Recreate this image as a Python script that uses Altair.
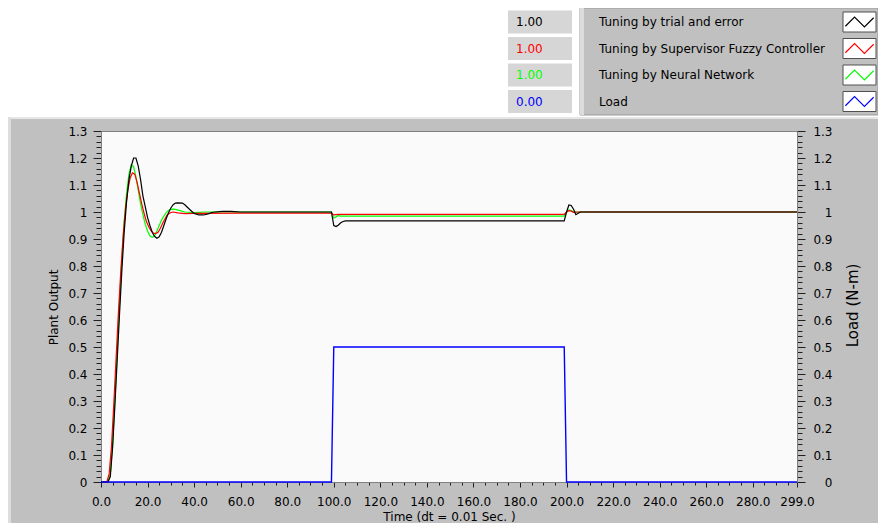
import altair as alt
import pandas as pd

# ---------------- data ----------------
series_names = ["Tuning by trial and error",
                "Tuning by Supervisor Fuzzy Controller",
                "Tuning by Neural Network",
                "Load"]
series_colors = ["#000000", "#ff0000", "#00ff00", "#0000ff"]
current_values = [1.00, 1.00, 1.00, 0.00]

trial_t = [0, 3, 4, 5, 6, 7, 8, 9, 10, 11, 12, 13, 14, 15, 16, 17, 18, 19, 20,
           21, 22, 23, 24, 25, 26, 27, 28, 29, 30, 31, 32, 33, 35, 36, 38, 40,
           42, 44, 46, 48, 52, 56, 60, 99, 100, 101, 102, 103, 104, 105, 199,
           200, 201, 202, 203, 204, 205, 206, 299]
trial_y = [0, 0, 0.02, 0.13, 0.29, 0.46, 0.63, 0.79, 0.93, 1.04, 1.12, 1.17,
           1.2, 1.2, 1.17, 1.12, 1.06, 1.02, 0.98, 0.95, 0.925, 0.91, 0.903,
           0.908, 0.925, 0.95, 0.975, 0.997, 1.015, 1.027, 1.033, 1.034, 1.033,
           1.027, 1.01, 0.995, 0.989, 0.989, 0.993, 0.999, 1.002, 1.002, 1.0,
           1.0, 0.95, 0.946, 0.952, 0.96, 0.965, 0.967, 0.967, 1.0, 1.026,
           1.024, 1.01, 0.99, 0.995, 1.0, 1.0]

fuzzy_t = [0, 2.5, 3.5, 4.5, 5.5, 6.5, 7.5, 8.5, 9.5, 10.5, 11.5, 12.5, 13.5,
           14.5, 15.5, 16.5, 17.5, 18.5, 19.5, 20.5, 21.5, 22.5, 23.5, 24.5,
           25.5, 26.5, 27.5, 28.5, 30, 31, 33, 36, 40, 60, 99, 100, 102, 199,
           200, 201, 202, 203, 205, 299]
fuzzy_y = [0, 0, 0.03, 0.13, 0.29, 0.46, 0.63, 0.78, 0.91, 1.01, 1.08, 1.125,
           1.145, 1.14, 1.11, 1.07, 1.03, 0.995, 0.965, 0.945, 0.93, 0.922,
           0.92, 0.925, 0.94, 0.958, 0.975, 0.99, 0.998, 1.0, 0.997, 0.994,
           0.995, 0.996, 0.996, 0.989, 0.991, 0.991, 1.0, 1.005, 1.003, 0.999,
           1.0, 1.0]

nn_t = [0, 3, 4, 5, 6, 7, 8, 9, 10, 11, 12, 13, 14, 15, 16, 17, 18, 19, 20,
        21, 22, 23, 24, 25, 26, 27, 28, 29, 30, 31, 32, 34, 36, 40, 45, 99,
        100, 101, 102, 103, 105, 199, 200, 201, 202, 203, 204, 299]
nn_y = [0, 0, 0.03, 0.14, 0.31, 0.49, 0.67, 0.83, 0.97, 1.07, 1.14, 1.175,
        1.168, 1.13, 1.08, 1.03, 0.99, 0.955, 0.93, 0.912, 0.906, 0.912, 0.93,
        0.95, 0.97, 0.985, 0.998, 1.006, 1.01, 1.011, 1.01, 1.005, 1.0, 0.998,
        1.0, 1.0, 0.978, 0.982, 0.987, 0.985, 0.985, 0.985, 1.0, 1.008, 1.005,
        1.0, 1.0, 1.0]

load_t = [0, 99, 100, 199, 200, 299]
load_y = [0, 0, 0.5, 0.5, 0, 0]

x_tick_values = list(range(0, 300, 5)) + [299]
y_tick_values = [round(i * 0.02, 2) for i in range(66)]

# ---------------- tables (drawn green, red, then black on top) ----------------
plant_df = pd.concat([
    pd.DataFrame({"series": series_names[2], "t": nn_t, "v": nn_y}),
    pd.DataFrame({"series": series_names[1], "t": fuzzy_t, "v": fuzzy_y}),
    pd.DataFrame({"series": series_names[0], "t": trial_t, "v": trial_y}),
], ignore_index=True)
load_df = pd.DataFrame({"series": series_names[3], "t": load_t, "v": load_y})
legend_df = pd.DataFrame({"series": series_names,
                          "idx": list(range(len(series_names))),
                          "val": current_values})
one = pd.DataFrame({"a": [0]})

FONT = "DejaVu Sans"
color = alt.Color("series:N",
                  scale=alt.Scale(domain=series_names, range=series_colors),
                  legend=None)

x_major = "datum.value % 20 === 0 || datum.value === 299"
y_major = "abs(datum.value * 10 - round(datum.value * 10)) < 0.001"

x_axis = alt.Axis(values=x_tick_values,
                  labelExpr=f"({x_major}) ? format(datum.value, '.1f') : ''",
                  tickSize={"condition": {"test": x_major, "value": 5}, "value": 3},
                  labelPadding=9, labelFlush=False, labelOverlap=False,
                  labelBaseline="top",
                  title="Time (dt = 0.01 Sec. )",
                  titleX=348, titleY=34, titleAlign="center",
                  titleBaseline="middle", titleAnchor="middle")

left_axis = alt.Axis(orient="left", values=y_tick_values,
                     labelExpr=f"({y_major}) ? format(datum.value, '~g') : ''",
                     tickSize={"condition": {"test": y_major, "value": 8}, "value": 5},
                     labelPadding=6, labelOverlap=False,
                     title="Plant Output", titleAngle=270,
                     titleX=-48, titleY=176, titleAlign="center",
                     titleBaseline="middle")

right_axis = alt.Axis(orient="right", values=y_tick_values,
                      labelExpr=f"({y_major}) ? format(datum.value, '~g') : ''",
                      tickSize={"condition": {"test": y_major, "value": 8}, "value": 5},
                      labelAlign="right", labelPadding=27, labelOverlap=False,
                      title="Load (N-m)", titleAngle=270, titleFontSize=15,
                      titleX=55, titleY=174, titleAlign="center",
                      titleBaseline="middle")

x_enc = alt.X("t:Q", scale=alt.Scale(domain=[0, 299], nice=False, zero=False),
              axis=x_axis)

# ---------------- decoration: white header strip and panel edges ----------------
header = alt.Chart(one).mark_rect(fill="#ffffff").encode(
    x=alt.value(-93), x2=alt.value(777), y=alt.value(-123), y2=alt.value(-14))
top_edge = alt.Chart(one).mark_rect(fill="#e6e6e6").encode(
    x=alt.value(-93), x2=alt.value(777), y=alt.value(-14), y2=alt.value(-12))
left_edge = alt.Chart(one).mark_rect(fill="#dedede").encode(
    x=alt.value(-93), x2=alt.value(-90), y=alt.value(-14), y2=alt.value(392))

# ---------------- plots ----------------
plant = alt.Chart(plant_df).mark_line(strokeWidth=1.2).encode(
    x=x_enc,
    y=alt.Y("v:Q", scale=alt.Scale(domain=[0, 1.3], nice=False), axis=left_axis),
    color=color)

load = alt.Chart(load_df).mark_line(strokeWidth=1.4).encode(
    x=x_enc,
    y=alt.Y("v:Q", scale=alt.Scale(domain=[0, 1.3], nice=False), axis=right_axis),
    color=color)

# ---------------- legend block (LabVIEW style) ----------------
leg = alt.Chart(legend_df).transform_calculate(
    yc="-109 + datum.idx * 26.5",
    y0="datum.yc - 11.5",
    y1="datum.yc + 11.5",
    s0="datum.yc - 10",
    s1="datum.yc + 10")

value_boxes = leg.mark_rect(fill="#d6d6d6").encode(
    x=alt.value(407), x2=alt.value(471),
    y=alt.Y("y0:Q", scale=None, axis=None), y2="y1:Q")
value_text = leg.mark_text(align="left", baseline="middle", font=FONT,
                           fontSize=12).encode(
    x=alt.value(415), y=alt.Y("yc:Q", scale=None, axis=None),
    text=alt.Text("val:Q", format=".2f"), color=color)

names_panel = alt.Chart(one).mark_rect(fill="#c0c0c0", stroke="#9a9a9a",
                                       strokeWidth=1).encode(
    x=alt.value(479), x2=alt.value(777), y=alt.value(-123), y2=alt.value(-16))
names_edge = alt.Chart(one).mark_rect(fill="#dcdcdc").encode(
    x=alt.value(479), x2=alt.value(483), y=alt.value(-123), y2=alt.value(-16))
name_text = leg.mark_text(align="left", baseline="middle", font=FONT,
                          fontSize=12, color="#000000").encode(
    x=alt.value(498), y=alt.Y("yc:Q", scale=None, axis=None),
    text="series:N")
swatch = leg.mark_rect(fill="#ffffff", stroke="#505050", strokeWidth=1).encode(
    x=alt.value(742), x2=alt.value(775),
    y=alt.Y("s0:Q", scale=None, axis=None), y2="s1:Q")
zigzag = leg.mark_point(shape="M-1,0.3L-0.35,-0.35L0.35,0.35L1,-0.3",
                        filled=False, size=800, strokeWidth=1.2,
                        opacity=1).encode(
    x=alt.value(758.5), y=alt.Y("yc:Q", scale=None, axis=None),
    stroke=alt.Stroke("series:N",
                      scale=alt.Scale(domain=series_names, range=series_colors),
                      legend=None))

chart = alt.layer(
    header, top_edge, left_edge,
    plant, load,
    value_boxes, value_text, names_panel, names_edge, name_text, swatch, zigzag
).resolve_scale(y="independent").properties(
    width=696, height=351,
    autosize=alt.AutoSizeParams(type="none"),
    padding={"left": 93, "top": 123, "right": 81, "bottom": 41},
    background="#c0c0c0",
).configure_view(
    fill="#fafafa", stroke="#808080", strokeWidth=1
).configure_axis(
    labelFont=FONT, labelFontSize=12, labelColor="#000000",
    titleFont=FONT, titleFontSize=12, titleColor="#000000",
    titleFontWeight="normal", domainColor="#808080", tickColor="#202020",
    grid=False
)

chart.save("out.html", embed_options={"renderer": "svg", "actions": False})
